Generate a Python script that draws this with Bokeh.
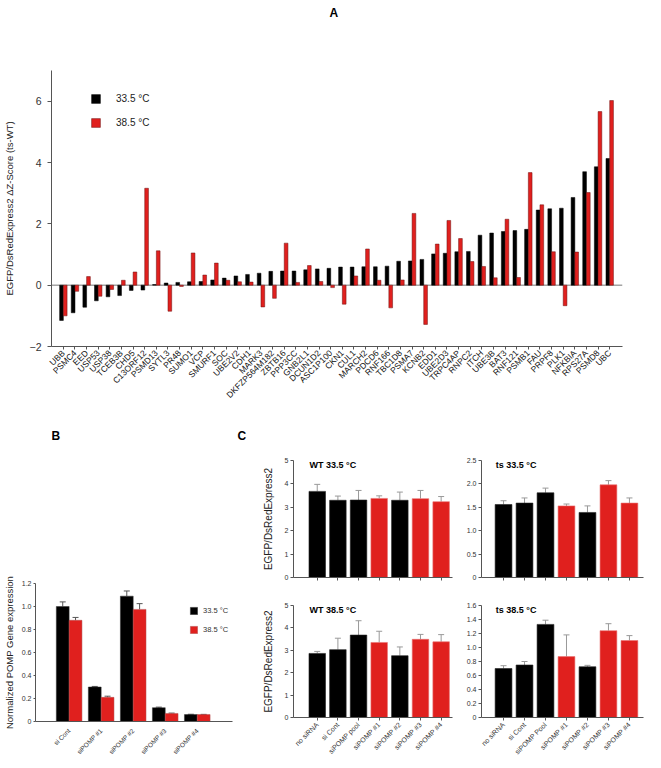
from math import pi
from bokeh.plotting import figure
from bokeh.layouts import column, row
from bokeh.models import (FixedTicker, Span, Label, Legend, LegendItem, Whisker,
                          TeeHead, ColumnDataSource, Range1d)
from bokeh.core.properties import value
from bokeh.transform import dodge
from bokeh.embed import file_html
from bokeh.resources import INLINE

# ---------------- data ----------------
genes = ["UBB", "PSMC4", "EED", "USP53", "USP38", "TCEB3B", "CHD5", "C13ORF12",
         "PSMD13", "SYTL3", "PR48", "SUMO1", "VCP", "SMURF1", "SOC", "UBE2V2",
         "CDH1", "MARK3", "DKFZP564M182", "ZBTB16", "PPP3CC", "GNB2L1", "DCUN1D2",
         "ASC1P100", "CKN1", "CUL1", "MARCH2", "PDCD6", "RNF166", "TBC1D8", "PSMA7",
         "KCNB2", "EDD1", "UBE2D3", "TRPC4AP", "RNPC2", "ITCH", "UBE3B", "BAT3",
         "RNF121", "PSMB1", "FAU", "PRPF8", "PLK1", "NFKBIA", "RPS27A", "PSMD8", "UBC"]
z_335 = [-1.15, -0.90, -0.72, -0.51, -0.38, -0.34, -0.17, -0.16, 0.02, 0.07, 0.09,
         0.11, 0.12, 0.17, 0.23, 0.30, 0.35, 0.39, 0.45, 0.46, 0.46, 0.50, 0.53, 0.55,
         0.59, 0.59, 0.60, 0.60, 0.62, 0.78, 0.79, 0.84, 1.02, 1.04, 1.09, 1.10, 1.63,
         1.70, 1.75, 1.78, 1.82, 2.45, 2.49, 2.51, 2.86, 3.70, 3.86, 4.13]
z_385 = [-1.00, -0.20, 0.28, -0.36, -0.14, 0.16, 0.43, 3.16, 1.12, -0.85, -0.04,
         1.05, 0.33, 0.72, 0.16, 0.11, 0.10, -0.71, -0.43, 1.37, 0.09, 0.64, 0.12,
         -0.08, -0.62, 0.30, 1.18, 0.16, -0.74, 0.17, 2.34, -1.28, 1.34, 2.11, 1.52,
         0.77, 0.61, 0.24, 2.15, 0.25, 3.67, 2.62, 1.09, -0.67, 1.08, 3.02, 5.66, 6.02]
a_ticks = [-2, 0, 2, 4, 6]

b_cats = ["si Cont", "siPOMP #1", "siPOMP #2", "siPOMP #3", "siPOMP #4"]
b_335 = [1.00, 0.30, 1.09, 0.12, 0.06]
b_335_err = [0.04, 0.005, 0.045, 0.005, 0.003]
b_385 = [0.88, 0.21, 0.975, 0.07, 0.06]
b_385_err = [0.025, 0.01, 0.05, 0.003, 0.002]
b_ticks = [0, 0.2, 0.4, 0.6, 0.8, 1.0, 1.2]
b_tick_labels = ["0", "0.2", "0.4", "0.6", "0.8", "1.0", "1.2"]

c_cats = ["no siRNA", "si Cont", "siPOMP pool", "siPOMP #1", "siPOMP #2",
          "siPOMP #3", "siPOMP #4"]
c_cats_ts = ["no siRNA", "si Cont", "siPOMP Pool", "siPOMP #1", "siPOMP #2",
             "siPOMP #3", "siPOMP #4"]
red_conditions = ["siPOMP #1", "siPOMP #3", "siPOMP #4"]
wt335 = [3.68, 3.30, 3.31, 3.38, 3.30, 3.37, 3.24]
wt335_err = [0.30, 0.18, 0.41, 0.11, 0.35, 0.35, 0.22]
ts335 = [1.56, 1.59, 1.81, 1.53, 1.39, 1.98, 1.59]
ts335_err = [0.08, 0.11, 0.10, 0.04, 0.14, 0.09, 0.11]
wt385 = [2.86, 3.03, 3.68, 3.35, 2.76, 3.49, 3.38]
wt385_err = [0.09, 0.51, 0.64, 0.50, 0.39, 0.22, 0.32]
ts385 = [0.70, 0.75, 1.33, 0.87, 0.725, 1.24, 1.10]
ts385_err = [0.04, 0.05, 0.06, 0.31, 0.02, 0.10, 0.07]
wt_ticks = [0, 1, 2, 3, 4, 5]
wt_tick_labels = ["0", "1", "2", "3", "4", "5"]
ts335_ticks = [0, 0.5, 1.0, 1.5, 2.0, 2.5]
ts335_tick_labels = ["0", "0.5", "1.0", "1.5", "2.0", "2.5"]
ts385_ticks = [0, 0.2, 0.4, 0.6, 0.8, 1.0, 1.2, 1.4, 1.6]
ts385_tick_labels = ["0", "0.2", "0.4", "0.6", "0.8", "1.0", "1.2", "1.4", "1.6"]

# ---------------- style ----------------
FONT = "Liberation Sans"
RED = "#e0201e"
AX = "#555555"


def style(p, ylab_size="10px", ytick_size="7px"):
    p.xgrid.visible = False
    p.ygrid.visible = False
    p.outline_line_color = None
    p.background_fill_color = "white"
    p.border_fill_color = "white"
    for ax in (p.xaxis[0], p.yaxis[0]):
        ax.axis_line_color = AX
        ax.major_tick_line_color = AX
        ax.minor_tick_line_color = None
        ax.major_tick_in = 0
        ax.major_tick_out = 3
        ax.major_label_text_font = FONT
        ax.major_label_text_color = "#333333"
        ax.axis_label_text_font = FONT
        ax.axis_label_text_font_style = "normal"
        ax.axis_label_text_color = "#222222"
    p.yaxis[0].major_label_text_font_size = ytick_size
    p.yaxis[0].axis_label_text_font_size = ylab_size


def strip(width, height):
    s = figure(width=width, height=height, x_range=Range1d(0, width), y_range=Range1d(0, height),
               output_backend="svg", toolbar_location=None, x_axis_location=None,
               y_axis_location=None, min_border=0)
    s.xgrid.visible = False
    s.ygrid.visible = False
    s.outline_line_color = None
    return s


def letter(s, txt, x, y, align="center"):
    s.text(x=[x], y=[y], text=[txt], text_font=value(FONT), text_font_size="12px",
           text_font_style="bold", text_align=align, text_baseline="middle",
           text_color="black")


# ---------------- panel letters ----------------
stripA = strip(645, 20)
letter(stripA, "A", 319, 8)
stripBC = strip(645, 20)
letter(stripBC, "B", 0, 10, "left")
letter(stripBC, "C", 215, 10)

# ---------------- panel A ----------------
srcA = ColumnDataSource(dict(x=list(range(len(genes))), z1=z_335, z2=z_385))
pA = figure(width=645, height=405, x_range=Range1d(-1.02, 48.1), y_range=Range1d(-2, 7),
            output_backend="svg", toolbar_location=None,
            min_border_left=45, min_border_right=23, min_border_top=50, min_border_bottom=79)
style(pA, ylab_size="9.5px", ytick_size="10.5px")
pA.add_layout(Span(location=0, dimension="width", line_color="#777777", line_width=1,
                   level="underlay"))
rA1 = pA.vbar(x=dodge("x", -0.16), top="z1", bottom=0, width=0.32, source=srcA,
              fill_color="black", line_color="black", line_width=0.5)
rA2 = pA.vbar(x=dodge("x", 0.16), top="z2", bottom=0, width=0.32, source=srcA,
              fill_color=RED, line_color="#6a1010", line_width=0.5)
pA.xaxis.ticker = FixedTicker(ticks=list(range(len(genes))))
pA.xaxis.major_label_overrides = {i: g for i, g in enumerate(genes)}
pA.xaxis.major_label_orientation = pi / 4
pA.xaxis.major_label_text_font_size = "8.5px"
pA.xaxis.major_label_text_color = "#111111"
pA.xaxis.major_label_standoff = 2
pA.yaxis.ticker = FixedTicker(ticks=a_ticks)
pA.yaxis.major_tick_out = 4
pA.yaxis.major_label_standoff = 6
pA.yaxis.axis_label = "EGFP/DsRedExpress2 \u0394Z-Score (ts-WT)"
pA.yaxis.axis_label_standoff = 12
legA = Legend(items=[LegendItem(label="33.5 \u00b0C", renderers=[rA1]),
                     LegendItem(label="38.5 \u00b0C", renderers=[rA2])],
              location=(39, 218), padding=0, margin=0, spacing=13,
              glyph_width=11, glyph_height=11, label_height=11, label_standoff=15,
              label_text_font=FONT, label_text_font_size="10px",
              label_text_color="#222222", border_line_alpha=0, background_fill_alpha=0)
pA.add_layout(legA)

# ---------------- panel B ----------------
srcB = ColumnDataSource(dict(x=list(range(len(b_cats))), v1=b_335, v2=b_385,
                             u1=[v + e for v, e in zip(b_335, b_335_err)],
                             u2=[v + e for v, e in zip(b_385, b_385_err)]))
pB = figure(width=235, height=315, x_range=Range1d(-1.05, 5.1), y_range=Range1d(0, 1.2),
            output_backend="svg", toolbar_location=None,
            min_border_left=27, min_border_right=3, min_border_top=138, min_border_bottom=36)
style(pB, ylab_size="9.5px", ytick_size="7px")
rB1 = pB.vbar(x=dodge("x", -0.2), top="v1", width=0.4, source=srcB,
              fill_color="black", line_color="#333333", line_width=0.5)
rB2 = pB.vbar(x=dodge("x", 0.2), top="v2", width=0.4, source=srcB,
              fill_color=RED, line_color="#b05050", line_width=0.5)
for off, u, v in ((-0.2, "u1", "v1"), (0.2, "u2", "v2")):
    pB.add_layout(Whisker(base=dodge("x", off), upper=u, lower=v, source=srcB,
                          line_color="#555555", line_width=1, lower_head=None,
                          upper_head=TeeHead(size=6, line_color="#555555")))
pB.xaxis.ticker = FixedTicker(ticks=list(range(len(b_cats))))
pB.xaxis.major_label_overrides = {i: c for i, c in enumerate(b_cats)}
pB.xaxis.major_label_orientation = pi / 4
pB.xaxis.major_label_text_font_size = "6.5px"
pB.xaxis.major_tick_out = 0
pB.xaxis.major_label_standoff = 8
pB.yaxis.ticker = FixedTicker(ticks=b_ticks)
pB.yaxis.major_label_overrides = dict(zip(b_ticks, b_tick_labels))
pB.yaxis.major_tick_out = 2
pB.yaxis.major_label_standoff = 2
pB.yaxis.axis_label = "Normalized POMP Gene expression"
pB.yaxis.axis_label_standoff = 4
legB = Legend(items=[LegendItem(label="33.5 \u00b0C", renderers=[rB1]),
                     LegendItem(label="38.5 \u00b0C", renderers=[rB2])],
              location=(154, 87), padding=0, margin=0, spacing=10,
              glyph_width=9, glyph_height=9, label_height=9, label_standoff=5,
              label_text_font=FONT, label_text_font_size="7.5px",
              label_text_color="#333333", border_line_alpha=0, background_fill_alpha=0)
pB.add_layout(legB)


# ---------------- panel C ----------------
def cpanel(vals, errs, cats, ticks, tick_labels, ymax, title, left, top_row, xr):
    colors = [RED if c in red_conditions else "black" for c in cats]
    lines = ["#e87070" if c in red_conditions else "#222222" for c in cats]
    src = ColumnDataSource(dict(x=list(range(len(cats))), v=vals, c=colors, lc=lines,
                                u=[v + e for v, e in zip(vals, errs)]))
    w = 227 if left else 183
    h = 145 if top_row else 170
    p = figure(width=w, height=h, x_range=Range1d(*xr), y_range=Range1d(0, ymax),
               output_backend="svg", toolbar_location=None,
               min_border_left=58 if left else 19, min_border_right=10 if left else 2,
               min_border_top=15, min_border_bottom=13 if top_row else 38)
    style(p, ylab_size="10px", ytick_size="7px")
    p.vbar(x="x", top="v", width=0.8, source=src, fill_color="c", line_color="lc",
           line_width=0.6)
    p.add_layout(Whisker(base="x", upper="u", lower="v", source=src,
                         line_color="#999999", line_width=1, lower_head=None,
                         upper_head=TeeHead(size=6, line_color="#999999")))
    p.xaxis.ticker = FixedTicker(ticks=list(range(len(cats))))
    if top_row:
        p.xaxis.major_label_overrides = {i: "" for i in range(len(cats))}
        p.xaxis.major_label_standoff = 0
    else:
        p.xaxis.major_label_overrides = {i: c for i, c in enumerate(cats)}
        p.xaxis.major_label_orientation = pi / 4
        p.xaxis.major_label_text_font_size = "7px"
        p.xaxis.major_label_standoff = 3
    p.yaxis.ticker = FixedTicker(ticks=ticks)
    p.yaxis.major_label_overrides = dict(zip(ticks, tick_labels))
    p.yaxis.major_label_standoff = 2
    if left:
        p.yaxis.axis_label = "EGFP/DsRedExpress2"
        p.yaxis.axis_label_standoff = 8
    p.add_layout(Label(x=-0.37, y=ymax, y_offset=-4, text=title, text_font=FONT,
                       text_font_size="9px", text_font_style="bold",
                       text_baseline="middle", text_color="black"))
    return p


XR_L = (-1.15, 6.55)
XR_R = (-1.05, 6.67)
c1 = cpanel(wt335, wt335_err, c_cats, wt_ticks, wt_tick_labels, 5, "WT 33.5 \u00b0C", True, True, XR_L)
c2 = cpanel(ts335, ts335_err, c_cats, ts335_ticks, ts335_tick_labels, 2.5, "ts 33.5 \u00b0C", False, True, XR_R)
c3 = cpanel(wt385, wt385_err, c_cats, wt_ticks, wt_tick_labels, 5, "WT 38.5 \u00b0C", True, False, XR_L)
c4 = cpanel(ts385, ts385_err, c_cats_ts, ts385_ticks, ts385_tick_labels, 1.6, "ts 38.5 \u00b0C", False, False, XR_R)

layout = column(stripA, pA, stripBC, row(pB, column(row(c1, c2), row(c3, c4))))
open("out.html", "w").write(file_html(layout, INLINE))
